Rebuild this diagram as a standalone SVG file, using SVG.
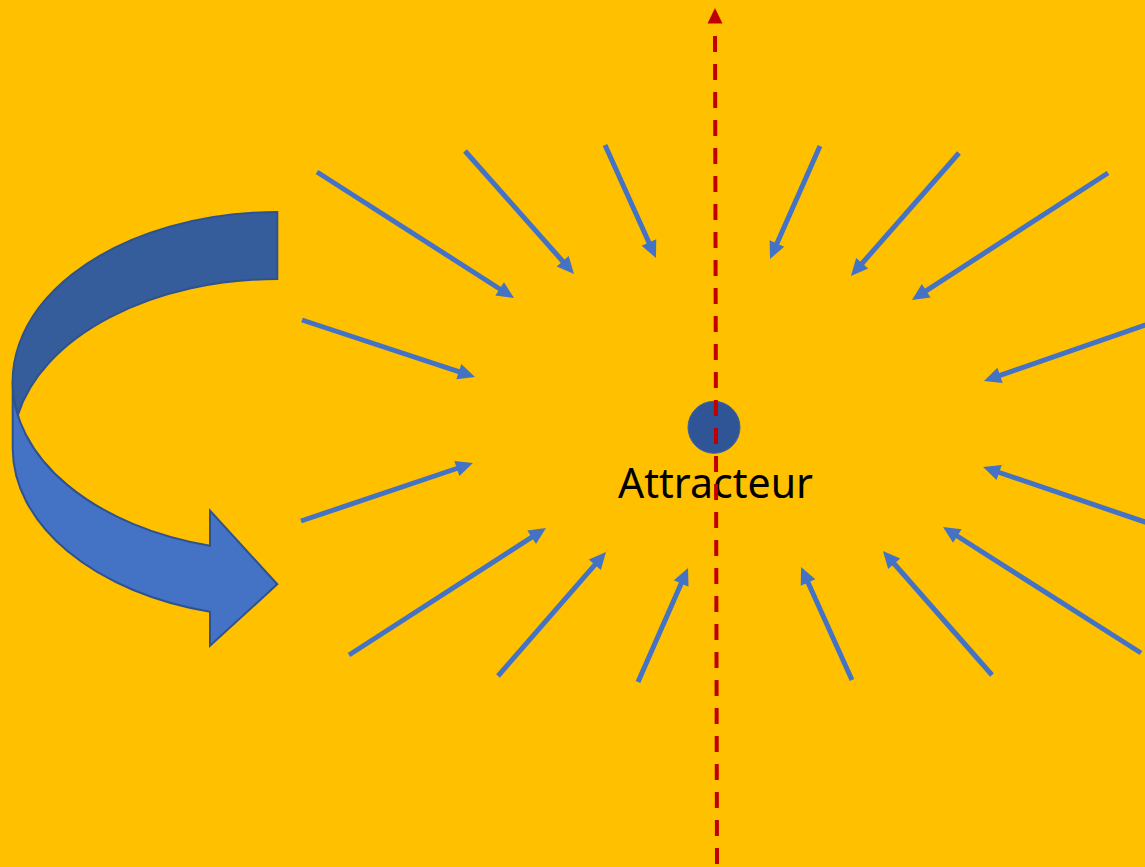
<svg xmlns="http://www.w3.org/2000/svg" width="1145" height="867" viewBox="0 0 1145 867">
  <style>
    .ray { stroke: #4472C4; stroke-width: 5; fill: none; marker-end: url(#blueHead); }
    .axis { stroke: #C00000; stroke-width: 4; stroke-dasharray: 16 12; stroke-dashoffset: 16; fill: none; }
    .label { font-family: "Noto Sans", "Open Sans", sans-serif; font-size: 41px; fill: #000000; }
    .bandOutline { stroke: #2F528F; stroke-width: 2; stroke-linejoin: miter; }
  </style>
  <defs>
    <marker id="blueHead" markerUnits="userSpaceOnUse" viewBox="0 0 17 16" markerWidth="17" markerHeight="16" refX="3" refY="8" orient="auto" overflow="visible">
      <path d="M0,0 L17,8 L0,16 Z" fill="#4472C4"/>
    </marker>
  </defs>

  <rect id="background" x="0" y="0" width="1145" height="867" fill="#FFC000"/>

  <g id="curved-arrow">
    <path class="bandOutline" fill="#4472C4" d="M12.7,381.4 A264.6,169.4 0 0 0 210,545.7 L210,510.7 L277.3,584.3 L210,645.7 L210,611.7 A264.6,169.4 0 0 1 12.7,448.4 Z"/>
    <path class="bandOutline" fill="#365D9B" d="M277.3,279 A264.6,169.4 0 0 0 17.9,414.9 A264.6,169.4 0 0 1 277.3,212 Z"/>
  </g>

  <g id="attractor">
    <circle cx="714" cy="427.3" r="26" fill="#2F5597" stroke="#3A62A8" stroke-width="1"/>
    <text class="label" x="618" y="498" textLength="195" lengthAdjust="spacingAndGlyphs">Attracteur</text>
  </g>

  <g id="connectors">
    <path id="axis" class="axis" d="M715,24 L717,867"/>
    <path d="M715,8 L722.5,23.5 L707.5,23.5 Z" fill="#C00000"/>
    <line class="ray" x1="317" y1="172" x2="502.2" y2="290.5"/>
    <line class="ray" x1="302" y1="320" x2="461.7" y2="372.6"/>
    <line class="ray" x1="465" y1="151" x2="564.7" y2="263.5"/>
    <line class="ray" x1="605" y1="145" x2="650.2" y2="245.2"/>
    <line class="ray" x1="820" y1="146" x2="775.7" y2="246.2"/>
    <line class="ray" x1="959" y1="153" x2="860.2" y2="265.5"/>
    <line class="ray" x1="1108" y1="173" x2="923.7" y2="292.4"/>
    <line class="ray" x1="1150" y1="323.3" x2="997.2" y2="376.4"/>
    <line class="ray" x1="1150" y1="523.7" x2="996.3" y2="471.5"/>
    <line class="ray" x1="1141" y1="653" x2="954.8" y2="534.5"/>
    <line class="ray" x1="992" y1="675" x2="892.2" y2="561.5"/>
    <line class="ray" x1="852" y1="680" x2="806.8" y2="579.8"/>
    <line class="ray" x1="301" y1="521" x2="459.7" y2="467.5"/>
    <line class="ray" x1="349" y1="655" x2="534.2" y2="535.6"/>
    <line class="ray" x1="498" y1="676" x2="596.8" y2="562.6"/>
    <line class="ray" x1="638" y1="682" x2="682.4" y2="580.8"/>
  </g>
</svg>
